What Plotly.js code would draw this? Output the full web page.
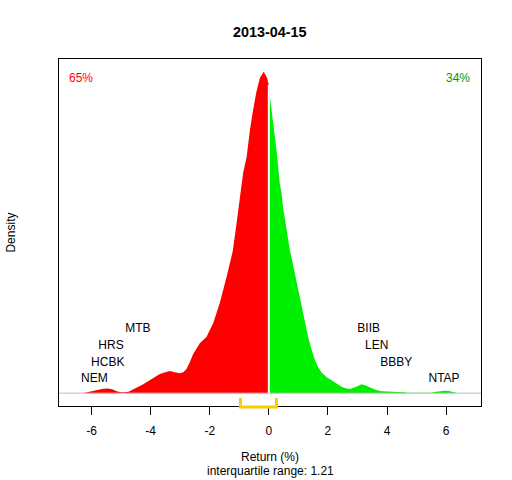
<!DOCTYPE html>
<html>
<head>
<meta charset="utf-8">
<script src="https://cdn.plot.ly/plotly-3.0.1.min.js"></script>
<style>html,body{margin:0;padding:0;background:#fff;}#chart{width:512px;height:480px;}</style>
</head>
<body>
<div id="chart"></div>
<script>
// Density of returns, negative side (red)
var negX = [-6.30,-6.20,-6.00,-5.80,-5.60,-5.45,-5.30,-5.15,-5.00,-4.90,-4.75,-4.60,-4.48,-4.25,-4.03,-3.85,-3.69,-3.50,-3.35,-3.18,-3.01,-2.90,-2.79,-2.67,-2.56,-2.33,-2.11,-1.88,-1.66,-1.43,-1.22,-1.09,-0.98,-0.87,-0.75,-0.64,-0.53,-0.42,-0.30,-0.17,-0.06,0.00];
var negY = [0,0.0013,0.0033,0.0053,0.0073,0.0078,0.0063,0.0033,0.0017,0.0013,0.0025,0.0058,0.0088,0.0150,0.0217,0.0275,0.0317,0.0350,0.0367,0.0350,0.0333,0.0350,0.0400,0.0517,0.0650,0.0833,0.0933,0.1167,0.1500,0.1933,0.2367,0.2833,0.3217,0.3667,0.3933,0.4383,0.4717,0.5017,0.5250,0.5350,0.5250,0.5133];
// Density of returns, positive side (green)
var posX = [0.00,0.03,0.15,0.20,0.26,0.37,0.43,0.48,0.60,0.71,0.78,0.88,1.00,1.11,1.22,1.33,1.45,1.56,1.67,1.78,1.95,2.12,2.30,2.46,2.60,2.74,2.90,3.05,3.14,3.25,3.37,3.48,3.65,3.81,4.00,4.25,4.49,4.60,4.70,4.90,5.20,5.50,5.60,5.80,5.96,6.10,6.30,6.40];
var posY = [0.5083,0.4967,0.4550,0.4267,0.4050,0.3500,0.3333,0.3100,0.2717,0.2383,0.2233,0.2000,0.1717,0.1433,0.1167,0.0933,0.0717,0.0550,0.0433,0.0350,0.0267,0.0217,0.0150,0.0105,0.0080,0.0067,0.0092,0.0133,0.0150,0.0133,0.0108,0.0078,0.0050,0.0033,0.0030,0.0030,0.0027,0.0013,0.0005,0.0002,0.0002,0.0005,0.0020,0.0033,0.0038,0.0035,0.0017,0];
// Stock labels
var labelNames = ["NEM","HCBK","HRS","MTB","BIIB","LEN","BBBY","NTAP"];
var labelX = [-5.90,-5.45,-5.34,-4.43,3.38,3.65,4.31,5.93];
var labelY = [0.0235,0.0500,0.0790,0.1072,0.1072,0.0790,0.0500,0.0235];
// Tick labels
var tickVals = [-6,-4,-2,0,2,4,6];
var tickText = ["-6","-4","-2","0","2","4","6"];
// Quartiles
var iqrBounds = [-0.96, 0.26];
var titleText = "2013-04-15";
var pctNeg = "65%";
var pctPos = "34%";
var iqrText = "interquartile range: 1.21";

var FONT = "Liberation Sans, Arial, sans-serif";
var peak = Math.max.apply(null, negY.concat(posY));

var traces = [
  {x: negX, y: negY, type: "scatter", mode: "lines", fill: "tozeroy",
   fillcolor: "#FF0000", line: {width: 0, color: "#FF0000"}, hoverinfo: "skip"},
  {x: posX, y: posY, type: "scatter", mode: "lines", fill: "tozeroy",
   fillcolor: "#00EE00", line: {width: 0, color: "#00EE00"}, hoverinfo: "skip"},
  {x: labelX, y: labelY, type: "scatter", mode: "text", text: labelNames,
   textposition: "middle center", textfont: {family: FONT, size: 12, color: "#000"},
   hoverinfo: "skip", cliponaxis: false}
];

var layout = {
  width: 512, height: 480,
  margin: {l: 59, r: 31, t: 59, b: 74, pad: 0},
  paper_bgcolor: "#fff", plot_bgcolor: "#fff",
  showlegend: false,
  font: {family: FONT, size: 12, color: "#000"},
  title: {text: "<b>" + titleText + "</b>", font: {family: FONT, size: 14.4, color: "#000"},
          x: 0.527, xanchor: "center", y: 1 - 32/480, yanchor: "middle"},
  xaxis: {range: [-7.1, 7.18], showgrid: false, zeroline: false,
          showline: true, mirror: true, linecolor: "#000", linewidth: 1,
          ticks: "outside", ticklen: 8, tickwidth: 1, tickcolor: "#000",
          tickvals: tickVals, ticktext: tickText, tickfont: {family: FONT, size: 12, color: "#000"},
          ticklabelstandoff: 6},
  yaxis: {range: [-0.04*peak, 1.04*peak], showgrid: false, zeroline: false,
          showline: true, mirror: true, linecolor: "#000", linewidth: 1,
          ticks: "", showticklabels: false},
  shapes: [
    {type: "line", xref: "paper", yref: "y", x0: 0, x1: 1, y0: 0, y1: 0,
     line: {color: "#BEBEBE", width: 1}},
    {type: "line", xref: "x", yref: "y", x0: 0, x1: 0, y0: 0, y1: negY[negY.length-1],
     line: {color: "#FFFFFF", width: 2}},
    {type: "path", xref: "x", yref: "paper", layer: "above",
     path: "M " + iqrBounds[0] + " 0.023 L " + iqrBounds[0] + " -0.003 L " + iqrBounds[1] + " -0.003 L " + iqrBounds[1] + " 0.023",
     line: {color: "#FFCC00", width: 3}}
  ],
  annotations: [
    {text: pctNeg, xref: "paper", yref: "paper", x: 0.018, y: 0.946, xanchor: "left", yanchor: "middle",
     showarrow: false, font: {family: FONT, size: 12, color: "#FF0000"}},
    {text: pctPos, xref: "paper", yref: "paper", x: 0.978, y: 0.946, xanchor: "right", yanchor: "middle",
     showarrow: false, font: {family: FONT, size: 12, color: "#009A00"}},
    {text: "Return (%)", xref: "paper", yref: "paper", x: 0.5, y: -0.147, xanchor: "center", yanchor: "middle",
     showarrow: false, font: {family: FONT, size: 12, color: "#000"}},
    {text: iqrText, xref: "paper", yref: "paper", x: 0.5, y: -0.187, xanchor: "center", yanchor: "middle",
     showarrow: false, font: {family: FONT, size: 12, color: "#000"}},
    {text: "Density", xref: "paper", yref: "paper", x: -0.116, y: 0.5, xanchor: "center", yanchor: "middle",
     textangle: -90, showarrow: false, font: {family: FONT, size: 12, color: "#000"}}
  ]
};

Plotly.newPlot("chart", traces, layout, {staticPlot: true, displayModeBar: false});
</script>
</body>
</html>
